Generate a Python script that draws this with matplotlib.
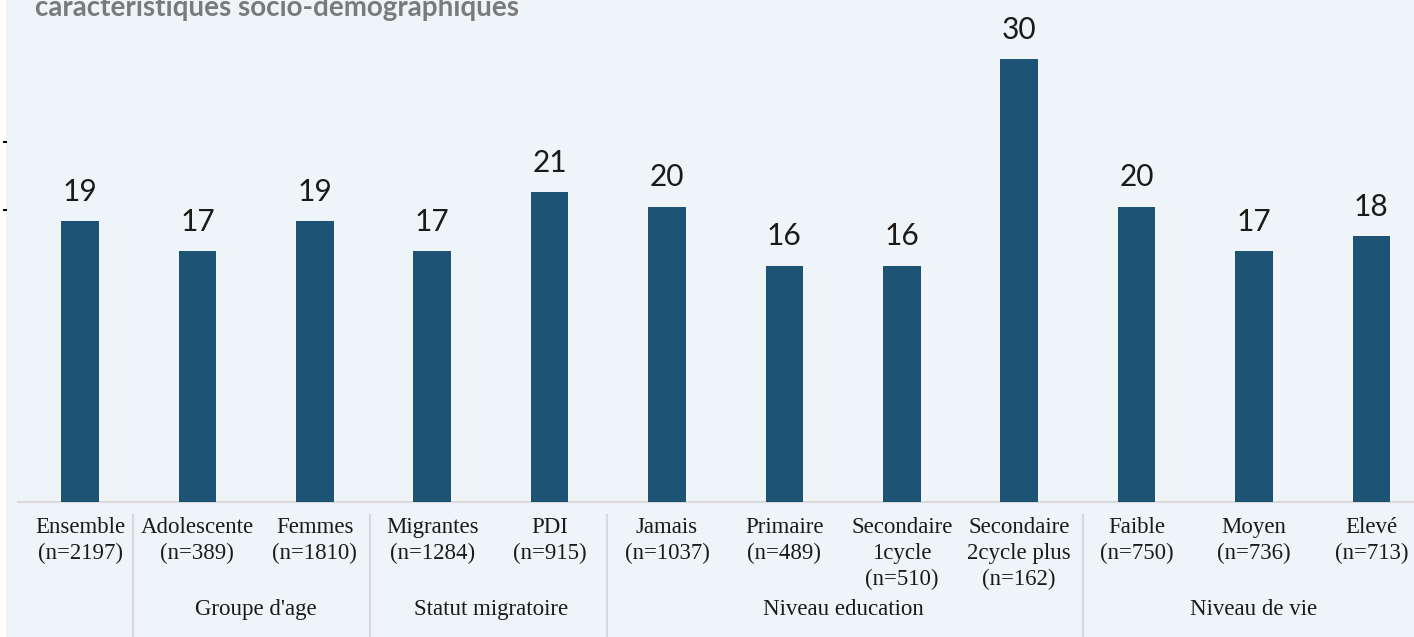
import matplotlib.pyplot as plt
from matplotlib.patches import Rectangle
from matplotlib.lines import Line2D

categories = ['Ensemble\n(n=2197)', 'Adolescente\n(n=389)', 'Femmes\n(n=1810)',
              'Migrantes\n(n=1284)', 'PDI\n(n=915)', 'Jamais\n(n=1037)',
              'Primaire\n(n=489)', 'Secondaire\n1cycle\n(n=510)',
              'Secondaire\n2cycle plus\n(n=162)', 'Faible\n(n=750)',
              'Moyen\n(n=736)', 'Elevé\n(n=713)']
values = [19, 17, 19, 17, 21, 20, 16, 16, 30, 20, 17, 18]
groups = ["Groupe d'age", 'Statut migratoire', 'Niveau education', 'Niveau de vie']
group_spans = [(1, 2), (3, 4), (5, 8), (9, 11)]
title = 'caractéristiques socio-démographiques'

W, H = 1414, 637
bg = '#eff4f8'
bar_color = '#1d5374'
sep_color = '#d9d9d9'

fig = plt.figure(figsize=(W / 100, H / 100), dpi=100)
fig.patch.set_facecolor('white')
fig.patches.append(Rectangle((6 / W, 0), 1, 1, transform=fig.transFigure,
                             facecolor=bg, edgecolor='none', zorder=-10))

# axes placed so that the last category runs off the right edge, as in the reference
left = 21.3 / W
width = 12 * 117.4 / W
bottom = (H - 502) / H
ymax = 32
height = ymax * 14.77 / H
ax = fig.add_axes([left, bottom, width, height])
ax.set_facecolor('none')

x = range(len(values))
ax.bar(x, values, width=0.32, color=bar_color, zorder=3)
for i, v in enumerate(values):
    ax.annotate(str(v), (i, v), xytext=(0, 11), textcoords='offset points',
                ha='center', va='bottom', fontsize=21.5, family='Lato', color='#1a1a1a')

ax.set_xlim(-0.5, len(values) - 0.5)
ax.set_ylim(0, ymax)
ax.set_yticks([])
for s in ['top', 'right', 'left']:
    ax.spines[s].set_visible(False)
ax.spines['bottom'].set_color(sep_color)
ax.spines['bottom'].set_linewidth(1.5)
ax.spines['bottom'].set_bounds(-0.53, len(values))

ax.set_xticks(list(x))
ax.set_xticklabels(categories, fontsize=16.5, family='Liberation Serif',
                   color='#1a1a1a', linespacing=1.3, va='top')
ax.tick_params(axis='x', length=0, pad=11)

tr = ax.get_xaxis_transform()
for name, (a, b) in zip(groups, group_spans):
    ax.text((a + b) / 2, -0.228, name, transform=tr, ha='center', va='center',
            fontsize=16.5, family='Liberation Serif', color='#1a1a1a')
for xb in [0.45, 2.47, 4.49, 8.54]:
    ax.plot([xb, xb], [-0.028, -0.3], transform=tr, color=sep_color,
            lw=1.5, clip_on=False)

fig.text(35 / W, (H - 16) / H, title, fontsize=20, family='Lato',
         fontweight='bold', color='#7a7a7a', va='baseline', ha='left')

# two small stray marks on the left border
for yy in [142, 210]:
    fig.lines.append(Line2D([3.5 / W, 5.5 / W], [(H - yy) / H] * 2,
                            transform=fig.transFigure, color='black', lw=1.5))

fig.savefig('out.png', dpi=100, facecolor=fig.get_facecolor())
